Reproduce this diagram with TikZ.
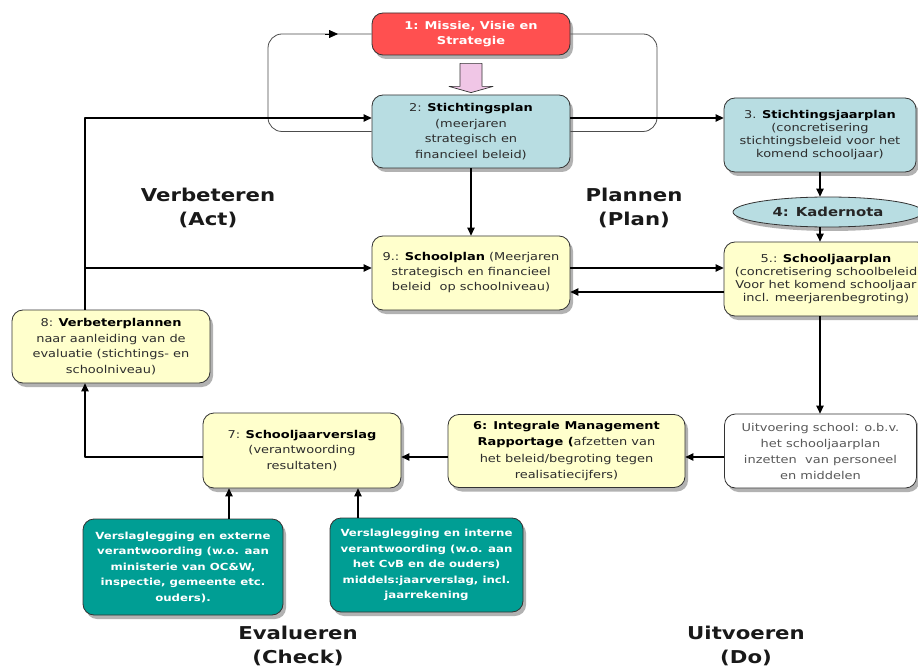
\documentclass[tikz,border=0pt]{standalone}
\usepackage{fontspec}
\setmainfont{DejaVu Sans}[FakeStretch=1.2]
\usetikzlibrary{arrows.meta,shadows,shapes.geometric}
\definecolor{rood}{RGB}{255,80,80}
\definecolor{lichtblauw}{RGB}{184,221,226}
\definecolor{geel}{RGB}{255,255,204}
\definecolor{petrol}{RGB}{0,158,148}
\definecolor{roze}{RGB}{240,198,230}
\definecolor{tekst}{RGB}{45,45,45}
\newcommand{\vet}[1]{\textcolor{black}{\textbf{#1}}}
\tikzset{
  blok/.style={draw=black!80,line width=0.8pt,rounded corners=11pt,align=center,inner sep=2pt,
    text=tekst,font=\fontsize{10.8}{15.5}\selectfont,
    drop shadow={shadow xshift=3pt,shadow yshift=-4pt,opacity=0.6}},
  blauw/.style={blok,fill=lichtblauw},
  geelblok/.style={blok,fill=geel},
  petrolblok/.style={blok,fill=petrol,text=white,font=\fontsize{9.8}{15.5}\selectfont\bfseries},
  fase/.style={align=center,text=black!90,font=\fontsize{17.7}{24}\selectfont\bfseries},
  lijn/.style={line width=1.1pt,black},
  lus/.style={line width=0.8pt,black!70,rounded corners=14pt}
}
\begin{document}
\begin{tikzpicture}[x=1pt,y=-1pt,>={Triangle[length=8pt,width=7.5pt]},line join=round]
\useasboundingbox (0,0) rectangle (918,668);
\fill[white] (0,0) rectangle (918,668);
\node[blok,fill=rood,text=white,font=\fontsize{10.8}{15}\selectfont\bfseries,minimum width=198pt,minimum height=42pt] (n1) at (471,34) {1: Missie, Visie en\\Strategie};
\node[blauw,minimum width=198pt,minimum height=73pt] (n2) at (471,131.5) {2: \vet{Stichtingsplan}\\(meerjaren\\strategisch en\\financieel beleid)};
\node[blauw,font=\fontsize{10.8}{13}\selectfont,minimum width=192pt,minimum height=74pt] (n3) at (820,135) {3. \vet{Stichtingsjaarplan}\\(concretisering\\stichtingsbeleid voor het\\komend schooljaar)};
\node[blok,shape=ellipse,fill=lichtblauw,font=\fontsize{12.4}{15}\selectfont\bfseries,text=black!85,minimum width=190pt,minimum height=30pt,inner sep=0pt] (n4) at (828,212) {4: Kadernota};
\node[geelblok,font=\fontsize{10.8}{13}\selectfont,minimum width=204pt,minimum height=74pt] (n5) at (826,279) {5.: \vet{Schooljaarplan}\\(concretisering schoolbeleid\\Voor het komend schooljaar\\incl. meerjarenbegroting)};
\node[geelblok,font=\fontsize{10.8}{15}\selectfont,minimum width=198pt,minimum height=74pt] (n9) at (471,273) {9.: \vet{Schoolplan} (Meerjaren\\strategisch en financieel\\beleid\ \ op schoolniveau)};
\node[geelblok,minimum width=198pt,minimum height=73pt] (n8) at (111,346.5) {8: \vet{Verbeterplannen}\\naar aanleiding van de\\evaluatie (stichtings- en\\schoolniveau)};
\node[blok,fill=white,text=black!65,font=\fontsize{10.8}{16}\selectfont,minimum width=192pt,minimum height=74pt] (nU) at (820.5,451) {Uitvoering school: o.b.v.\\het schooljaarplan\\inzetten\ \ van personeel\\en middelen};
\node[geelblok,font=\fontsize{10.8}{16.5}\selectfont,minimum width=237pt,minimum height=73pt] (n6) at (566.5,451) {\vet{6: Integrale Management}\\\vet{Rapportage (}afzetten van\\het beleid/begroting tegen\\realisatiecijfers)};
\node[geelblok,minimum width=198pt,minimum height=75pt] (n7) at (302,450.5) {7: \vet{Schooljaarverslag}\\(verantwoording\\resultaten)};
\node[petrolblok,minimum width=200pt,minimum height=96pt] (tA) at (183,567) {Verslaglegging en externe\\verantwoording (w.o. aan\\ministerie van OC\&W,\\inspectie, gemeente etc.\\ouders).};
\node[petrolblok,minimum width=193pt,minimum height=94pt] (tB) at (426.5,565) {Verslaglegging en interne\\verantwoording (w.o. aan\\het CvB en de ouders)\\middels:jaarverslag, incl.\\jaarrekening};
\node[fase] (lAct) at (208,208) {Verbeteren\\(Act)};
\node[fase] (lPlan) at (634,208) {Plannen\\(Plan)};
\node[fase] (lCheck) at (298,646) {Evalueren\\(Check)};
\node[fase] (lDo) at (746,646) {Uitvoeren\\(Do)};
\filldraw[fill=roze,draw=black!80,line width=0.7pt] ([xshift=-11pt,yshift=-8pt]n1.south) -- ([xshift=11pt,yshift=-8pt]n1.south) -- ([xshift=11pt,yshift=-31pt]n1.south) -- ([xshift=22pt,yshift=-31pt]n1.south) -- ([yshift=2pt]n2.north) -- ([xshift=-22pt,yshift=-31pt]n1.south) -- ([xshift=-11pt,yshift=-31pt]n1.south) -- cycle;
\draw[lus] (n2.west) -| (268,34) -- (n1.west);
\draw[lus,->,>={Triangle[length=9pt,width=8pt]},black] (325,34) -- (338,34);
\draw[lus] (n1.east) -| (657,131.5) -- (n2.east);
\coordinate (act) at (85,118);
\coordinate (act9) at (85,268);
\coordinate (rij) at (0,457);
\draw[lijn,->] (n8.north -| act) -- (act) -- (n2.west |- act);
\draw[lijn,->] (act9) -- (n9.west |- act9);
\draw[lijn,->] (n2.east |- act) -- (n3.west |- act);
\draw[lijn,->] (n2.south) -- (n9.north);
\draw[lijn,->] (n9.east |- act9) -- (n5.west |- act9);
\draw[lijn,->] (n5.west |- 0,292) -- (n9.east |- 0,292);
\draw[lijn,->] (n3.south) -- (n3.south |- n4.north);
\draw[lijn,->] (n4.south -| n3.south) -- (n3.south |- n5.north);
\draw[lijn,->] (n5.south -| n3.south) -- (n3.south |- nU.north);
\draw[lijn,->] (nU.west |- rij) -- (n6.east |- rij);
\draw[lijn,->] (n6.west |- rij) -- (n7.east |- rij);
\draw[lijn,->] (n7.west |- rij) -| (n8.south -| act);
\foreach \x/\n in {229/tA,358/tB}
  \draw[lijn,->] (\n.north -| \x,0) -- (n7.south -| \x,0);
\end{tikzpicture}
\end{document}
